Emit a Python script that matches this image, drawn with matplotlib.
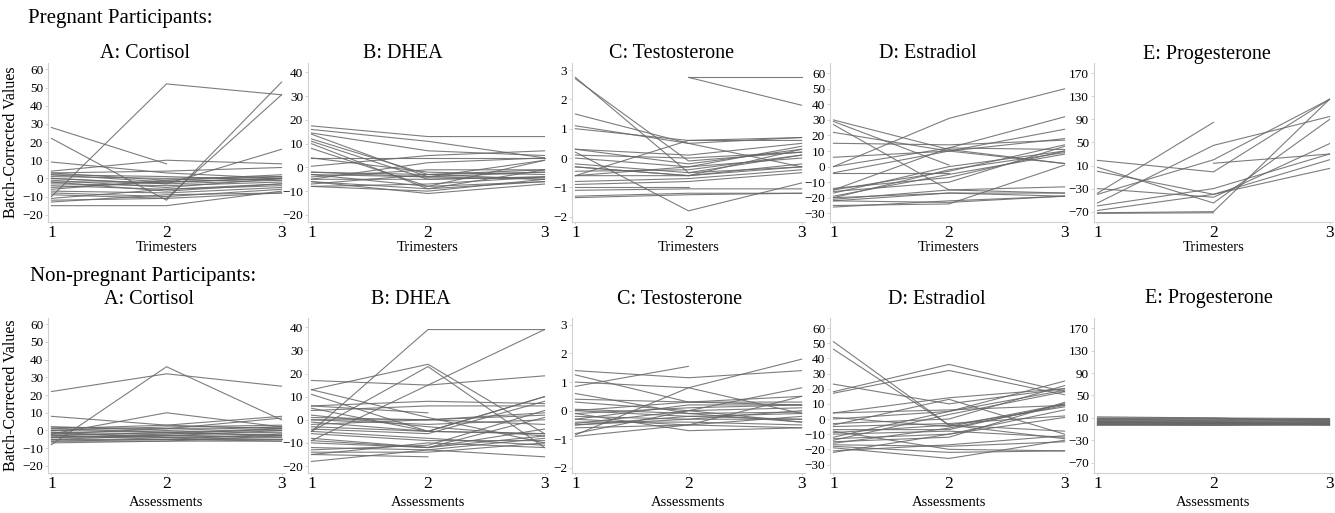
import matplotlib
matplotlib.use("Agg")
import matplotlib.pyplot as plt
import numpy as np

nan = np.nan
plt.rcParams['font.family'] = ['Liberation Serif', 'DejaVu Serif']

timepoints = [1, 2, 3]

# pregnant participants, one row per participant (t1, t2, t3)
preg_cortisol = [
    [-10, 52, 46], [28, 8, nan], [22, -12, 53], [-12, -11, 46], [9, 3, 0],
    [-15, -15, -7], [4, 10, 8], [0, -3, 16], [3, 4, 6], [2, -2, 0],
    [1, 0, 1], [0, -3, -1], [-1, -5, 0], [-2, -2, 0], [-3, -4, -2],
    [-4, -6, -3], [-5, -2, 0], [-7, -8, -5], [-8, -10, -6], [-9, -11, -8],
    [-11, -6, -4], [-13, -9, -8], [-6, -1, 1], [2, 1, -1], [-2, -7, -3],
    [3, -1, 2],
]
preg_dhea = [
    [17.5, 13, 13], [16, 11, 4], [14.5, 7, 5], [14, -4, -2], [12, -3, -5],
    [11, -5, -4], [10, -9, -1], [8, -8, -6], [4, 4, 4], [4, -2, -3],
    [0.5, 5, 7], [-2, -3, -1], [-3, -4, -5], [-3, -8, 3], [-4, -1, -1],
    [-5, -5, -4], [-6, -9, -6], [-6, -11, -7], [-7, -3, -2], [-8, -7, -4],
    [-8, -10, -5], [-5, 2, 4], [-2, -4, 3],
]
preg_testosterone = [
    [2.75, -0.5, -0.3], [2.7, -0.1, 0.2], [0.2, -1.8, -0.85], [nan, 2.75, 2.75],
    [nan, 2.75, 1.8], [1.5, 0.5, 0.7], [1.1, 0.5, -0.3], [1.0, 0.6, 0.7],
    [0.3, 0.1, 0.5], [0.3, -0.2, 0.3], [0.1, 0.0, 0.2], [0.0, -0.3, 0.4],
    [-0.2, -0.5, 0.1], [-0.3, -0.6, -0.2], [-0.3, -0.6, 0.3], [-0.6, 0.6, 0.6],
    [-0.6, -0.3, 0.0], [-0.6, -0.6, -0.3], [-0.8, -0.7, -0.4], [-0.9, -0.8, -0.5],
    [-1.0, -1.0, nan], [-1.1, -1.05, -1.05], [-1.3, -1.2, -1.2], [-1.35, -1.25, -1.2],
    [-0.45, -0.4, 0.1],
]
preg_estradiol = [
    [0, 31, 50], [30, 11, 2], [29, 1, nan], [27, -15, -17], [22, 10, 2],
    [15, 14, 17], [6, 10, 18], [0, 12, 11], [-4, -4, nan], [-4, 10, 24],
    [-15, 12, 32], [-15, -3, 14], [-14, -7, 10], [-16, -10, 13], [-20, -2, 9],
    [-20, -17, -17], [-21, -15, -13], [-22, -17, -19], [-22, -23, -19], [-25, -24, 1],
    [-26, -22, -19], [-17, 0, 10], [-19, -5, 8],
]
preg_progesterone = [
    [-55, 45, 95], [-40, 20, 125], [-38, 85, nan], [19, -1, 125], [-30, -45, 48],
    [7, -55, 90], [0, -40, 20], [-60, -30, 30], [-72, -70, 125], [nan, 14, 30],
    [-68, -40, 5], [-73, -72, nan],
]

# non-pregnant participants (assessment 1, 2, 3)
np_cortisol = [
    [22, 32, 25], [-8, 36, 6], [8, 3, 1], [-2, 10, 2], [1, 3, 8],
    [2, 1, 7], [2, 0, 2], [1, -1, 1], [0, -1, 0], [-1, -2, -1],
    [-2, -3, -2], [-3, -4, -3], [-4, -3, -4], [-5, -5, -5], [-6, -5, -6],
    [-7, -6, -6], [-2, 1, 2], [-3, -1, -3], [-4, -2, 1], [-1, -4, -5],
    [-5, -3, 0], [-6, -6, -3], [0, 2, 3], [-3, -5, -2],
]
np_dhea = [
    [-5, 39, 39], [-9, 15, 39], [17, 15, 19], [13, 24, -6], [-5, 23, -12],
    [13, 1, -10], [11, -5, -6], [6, 3, nan], [5, -5, 10], [6, 8, 7],
    [4, 6, 6], [1, 0, 3], [0, 0, -2], [-1, -5, 10], [-3, -5, -6],
    [-5, -8, -11], [-6, -9, -9], [-8, -12, 1], [-9, -12, -7], [-10, -12, -4],
    [-12, -13, -8], [-13, -11, 4], [-14, -14, -10], [-15, -10, -12], [-15, -16, nan],
    [-18, -13, -16], [-2, 0, 2], [2, -3, -7], [-4, -6, 8], [0, -2, 0],
]
np_testosterone = [
    [1.4, 1.15, 1.4], [1.25, 0.3, 0.2], [1.0, 0.8, -0.1], [0.85, 1.55, nan],
    [0.6, -0.1, -0.4], [0.4, 0.3, 0.5], [0.3, 0.0, 0.8], [-0.85, 0.8, 1.8],
    [-0.9, -0.5, -0.6], [-0.8, 0.0, 0.1], [0.0, -0.2, -0.1], [-0.1, 0.1, 0.2],
    [-0.2, -0.3, -0.3], [-0.3, 0.2, 0.2], [-0.4, -0.4, -0.5], [-0.5, -0.3, 0.0],
    [-0.5, -0.2, -0.3], [-0.6, -0.5, -0.2], [-0.1, -0.7, -0.6], [0.0, 0.3, 0.3],
    [-0.3, -0.5, 0.5], [-0.45, 0.0, -0.4], [0.05, -0.1, -0.05],
]
np_estradiol = [
    [51, -4, -13], [46, -4, -8], [23, 10, 20], [18, 36, 18], [17, 32, 16],
    [-4, 13, -10], [4, 14, 20], [4, 6, 9], [1, -5, 10], [0, 5, 25],
    [-3, 0, 22], [-7, -7, 10], [-9, -4, 8], [-10, -8, -12], [-12, 5, 19],
    [-13, -10, 1], [-15, -12, 11], [-16, -6, 9], [-17, -18, -15], [-18, -22, -21],
    [-19, -26, -14], [-21, -17, -11], [-22, -10, 6], [-5, -3, 2], [-14, 3, 18],
    [-8, -20, -21],
]
np_progesterone = [
    [12, 10, 9], [10, 9, 7], [8, 6, 6], [7, 5, 4], [5, 4, 5], [4, 3, 2],
    [3, 2, 1], [2, 1, 0], [1, 0, -1], [0, -1, -2], [-1, -2, -3], [-2, -3, -2],
    [-3, -3, -1], [6, 7, 8], [9, 10, 4], [1, 2, 3], [-2, 0, 1], [3, 1, -2],
]

titles = ["A: Cortisol", "B: DHEA", "C: Testosterone", "D: Estradiol", "E: Progesterone"]
yticks = [
    [-20, -10, 0, 10, 20, 30, 40, 50, 60],
    [-20, -10, 0, 10, 20, 30, 40],
    [-2, -1, 0, 1, 2, 3],
    [-30, -20, -10, 0, 10, 20, 30, 40, 50, 60],
    [-70, -30, 10, 50, 90, 130, 170],
]
ylims = [(-24, 63.5), (-23, 44), (-2.18, 3.24), (-35.6, 66.6), (-88, 188)]

preg_data = [preg_cortisol, preg_dhea, preg_testosterone, preg_estradiol, preg_progesterone]
np_data = [np_cortisol, np_dhea, np_testosterone, np_estradiol, np_progesterone]

W, H = 1335, 513
fig = plt.figure(figsize=(W / 100, H / 100), dpi=100)

lefts = [48, 308, 572, 830, 1094]
rights = [285, 548, 805, 1068, 1333]
rows = [
    dict(data=preg_data, top=63, bottom=222, xlabel="Trimesters", xpad=0.5,
         title_x=[145, 403, 672, 928, 1207], title_y=54),
    dict(data=np_data, top=318, bottom=473, xlabel="Assessments", xpad=3,
         title_x=[149, 411, 680, 937, 1209], title_y=299),
]

for r, row in enumerate(rows):
    for i in range(5):
        ax = fig.add_axes([lefts[i] / W, 1 - row["bottom"] / H,
                           (rights[i] - lefts[i]) / W, (row["bottom"] - row["top"]) / H])
        for traj in row["data"][i]:
            ax.plot(timepoints, traj, color="#666666", lw=0.8, alpha=0.85)
        ax.set_xlim(0.97, 3.03)
        ax.set_ylim(*ylims[i])
        ax.set_xticks(timepoints)
        ax.set_yticks(yticks[i])
        for s in ["top", "right"]:
            ax.spines[s].set_visible(False)
        for s in ["left", "bottom"]:
            ax.spines[s].set_color("#d0d0d0")
            ax.spines[s].set_linewidth(0.8)
        ax.tick_params(axis="y", length=2, width=0.6, color="#cccccc", pad=1.5, labelsize=9.5)
        ax.tick_params(axis="x", length=1.5, width=0.6, color="#cccccc", pad=0.5, labelsize=12.5)
        ax.set_xlabel(row["xlabel"], fontsize=10.5, labelpad=row["xpad"])
        fig.text(row["title_x"][i] / W, 1 - row["title_y"] / H, titles[i],
                 ha="center", va="center", fontsize=14.5)
        if i == 0:
            ax.set_ylabel("Batch-Corrected Values", fontsize=11.5, labelpad=2)

fig.text(28 / W, 1 - 18 / H, "Pregnant Participants:", ha="left", va="center", fontsize=15)
fig.text(30 / W, 1 - 277 / H, "Non-pregnant Participants:", ha="left", va="center", fontsize=15)

fig.savefig("out.png", dpi=100)
